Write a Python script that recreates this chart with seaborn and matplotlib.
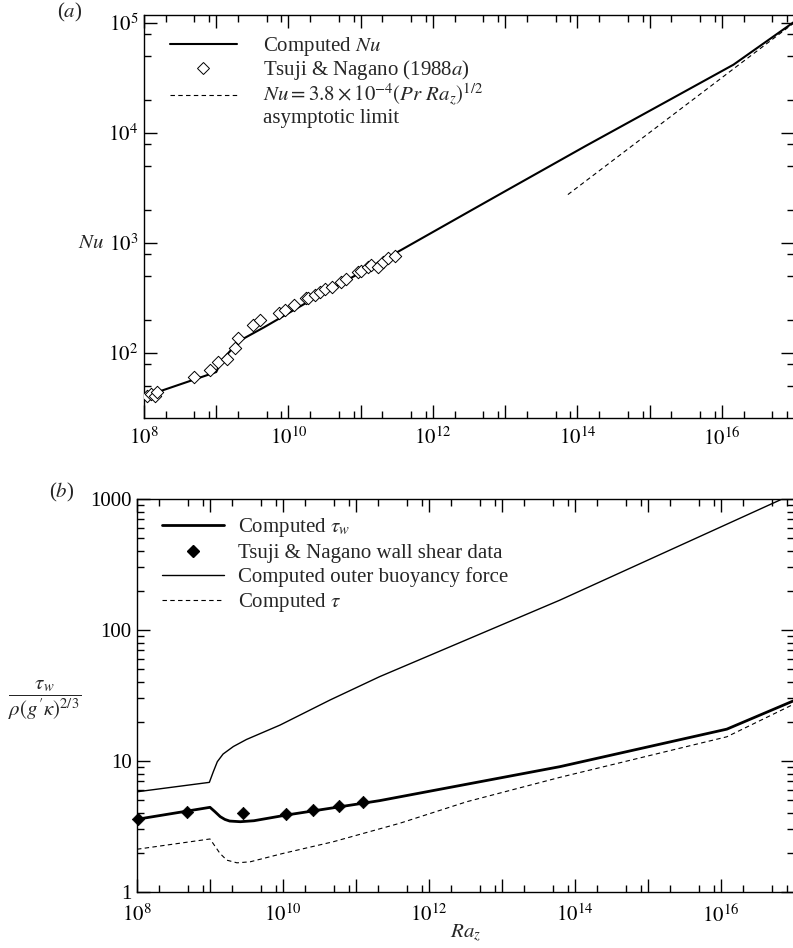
import numpy as np
import pandas as pd
import seaborn as sns
import matplotlib.pyplot as plt
from matplotlib.lines import Line2D
from matplotlib.ticker import LogLocator, FuncFormatter, NullFormatter

# ---- panel (a): Nusselt number ----
ra_nu_line = [1e8, 1e9, 1.2e9, 1.6e9, 2.2e9, 4.6e9, 2.0e10, 3.3e11, 3.5e12, 1e13,
              1.3e14, 1.9e15, 1.45e16, 1e17]
nu_line = [40, 67, 86, 106, 131, 171, 299, 832, 2000, 2950, 7600, 20000, 41700, 102000]

ra_tsuji_nu = [1.1e8, 1.25e8, 1.4e8, 1.5e8, 5.0e8, 8.3e8, 1.05e9, 1.43e9, 1.81e9, 2.02e9,
               3.19e9, 4.04e9, 7.5e9, 8.9e9, 1.2e10, 1.74e10, 1.85e10, 2.3e10, 2.77e10,
               3.24e10, 3.98e10, 5.37e10, 6.3e10, 9.2e10, 1.0e11, 1.26e11, 1.41e11,
               1.74e11, 2.04e11, 2.4e11, 2.96e11]
nu_tsuji = [40.6, 42.5, 41, 44, 60.5, 70.5, 82, 88, 111, 136,
            180, 200, 229, 245, 271, 318, 318, 337, 361,
            380, 396, 445, 468, 549, 560, 610, 631,
            610, 677, 726, 762]

ra_asym = [7.4e13, 1e17]
nu_asym = [2750, 1.0e5]

# ---- panel (b): wall shear stress ----
ra_tauw = [1e8, 1e9, 1.17e9, 1.38e9, 1.6e9, 1.86e9, 2.6e9, 4.0e9, 1.12e10, 2.1e11,
           6.2e13, 1.2e16, 1e17]
tauw = [3.59, 4.43, 4.1, 3.76, 3.58, 3.48, 3.44, 3.5, 3.87, 4.98,
        9.05, 17.5, 28.9]

ra_tsuji_tau = [1.03e8, 4.8e8, 2.8e9, 1.1e10, 2.6e10, 5.9e10, 1.26e11]
tau_tsuji = [3.59, 4.08, 4.0, 3.96, 4.2, 4.55, 4.84]

ra_outer = [1e8, 9.8e8, 1.11e9, 1.26e9, 1.51e9, 2.09e9, 3.16e9, 9.1e9, 4.4e10,
            2.1e11, 6.2e13, 6.9e16, 1e17]
outer = [5.82, 6.87, 8.28, 9.88, 11.3, 12.9, 14.6, 18.8, 29.2,
         44, 169, 1000, 1090]

ra_tau = [1e8, 1e9, 1.37e9, 1.7e9, 2.34e9, 3.55e9, 1e10, 4.9e10, 4.0e11, 3.3e12,
          6.2e13, 1.2e16, 1e17]
tau = [2.12, 2.54, 1.97, 1.75, 1.67, 1.70, 1.97, 2.42, 3.35, 4.89,
       7.5, 15.3, 27.2]

FS = 15

sns.set_style('ticks')
plt.rcParams['font.family'] = ['Liberation Serif', 'DejaVu Serif']
plt.rcParams['mathtext.fontset'] = 'stix'
plt.rcParams['font.size'] = FS

fig = plt.figure(figsize=(7.93, 9.48), dpi=100)
ax_a = fig.add_axes([144 / 793, 1 - 418 / 948, 650 / 793, 403 / 948])
ax_b = fig.add_axes([137 / 793, 1 - 892 / 948, 657 / 793, 393 / 948])


def style_axis(ax, ysubs, xpad):
    ax.set_xscale('log')
    ax.set_yscale('log')
    ax.set_xlim(1e8, 1e17)
    ax.xaxis.set_major_locator(LogLocator(base=10, numticks=30))
    ax.xaxis.set_minor_locator(LogLocator(base=10, subs=(2, 5, 8), numticks=30))
    ax.xaxis.set_major_formatter(FuncFormatter(
        lambda v, p: r'$10^{%d}$' % round(np.log10(v)) if round(np.log10(v)) % 2 == 0 else ''))
    ax.xaxis.set_minor_formatter(NullFormatter())
    ax.yaxis.set_major_locator(LogLocator(base=10, numticks=30))
    ax.yaxis.set_minor_locator(LogLocator(base=10, subs=ysubs, numticks=30))
    ax.yaxis.set_minor_formatter(NullFormatter())
    ax.tick_params(which='both', direction='in', top=True, right=True, width=1.0,
                   labelsize=FS, colors='k')
    ax.tick_params(which='major', length=9.5)
    ax.tick_params(which='minor', length=5)
    ax.tick_params(axis='x', pad=xpad)
    ax.tick_params(axis='y', pad=4)
    for s in ax.spines.values():
        s.set_linewidth(1.0)
        s.set_color('k')


# ---- (a) ----
style_axis(ax_a, (2, 5, 8), 7)
ax_a.set_ylim(25.6, 1.18e5)
ax_a.yaxis.set_major_formatter(FuncFormatter(lambda v, p: r'$10^{%d}$' % round(np.log10(v))))

sns.lineplot(x=ra_nu_line, y=nu_line, ax=ax_a, color='k', lw=1.5, sort=False, estimator=None)
sns.lineplot(x=ra_asym, y=nu_asym, ax=ax_a, color='k', lw=0.8, sort=False, estimator=None,
             linestyle=(0, (4, 3)))
sns.scatterplot(x=ra_tsuji_nu, y=nu_tsuji, ax=ax_a, marker='D', s=40, facecolor='white',
                edgecolor='k', linewidth=0.7, zorder=3)

handles_a = [
    Line2D([], [], color='k', lw=1.5),
    Line2D([], [], marker='D', ls='none', markersize=6, markerfacecolor='white',
           markeredgecolor='k', markeredgewidth=0.7),
    Line2D([], [], color='k', lw=0.8, linestyle=(0, (4, 3))),
]
labels_a = [r'Computed $Nu$', r'Tsuji & Nagano (1988$a$)',
            r'$Nu = 3.8\times10^{-4}(Pr\ Ra_z)^{1/2}$']
ax_a.legend(handles_a, labels_a, loc='upper left', bbox_to_anchor=(0.04, 0.95),
            frameon=False, handlelength=3.2, handletextpad=1.25, labelspacing=0.0,
            borderpad=0, borderaxespad=0, fontsize=FS)
ax_a.text((263 - 144) / 650, (418 - 118) / 403, 'asymptotic limit', transform=ax_a.transAxes,
          fontsize=FS, ha='left', va='center')
ax_a.set_xlabel('')
ax_a.set_ylabel(r'$Nu$', rotation=0, fontsize=FS, ha='right', va='center')
ax_a.yaxis.set_label_coords(-0.0615, 0.434)

# ---- (b) ----
style_axis(ax_b, (2, 3, 4, 5, 6, 7, 8, 9), 9)
ax_b.set_ylim(1, 1000)
ax_b.yaxis.set_major_formatter(FuncFormatter(lambda v, p: '%d' % round(v)))

sns.lineplot(x=ra_outer, y=outer, ax=ax_b, color='k', lw=1.0, sort=False, estimator=None)
sns.lineplot(x=ra_tau, y=tau, ax=ax_b, color='k', lw=0.8, sort=False, estimator=None,
             linestyle=(0, (4, 3)))
sns.lineplot(x=ra_tauw, y=tauw, ax=ax_b, color='k', lw=2.0, sort=False, estimator=None)
sns.scatterplot(x=ra_tsuji_tau, y=tau_tsuji, ax=ax_b, marker='D', s=40, color='k',
                edgecolor='k', zorder=3, clip_on=False)

handles_b = [
    Line2D([], [], color='k', lw=2.0),
    Line2D([], [], marker='D', ls='none', markersize=6, color='k'),
    Line2D([], [], color='k', lw=1.0),
    Line2D([], [], color='k', lw=0.8, linestyle=(0, (4, 3))),
]
labels_b = [r'Computed $\tau_w$', 'Tsuji & Nagano wall shear data',
            'Computed outer buoyancy force', r'Computed $\tau$']
ax_b.legend(handles_b, labels_b, loc='upper left', bbox_to_anchor=(0.038, 0.956),
            frameon=False, handlelength=3.0, handletextpad=0.63, labelspacing=0.2,
            borderpad=0, borderaxespad=0, fontsize=FS)
ax_b.set_xlabel(r'$Ra_z$', fontsize=FS, labelpad=-3)
ax_b.set_ylabel(r"$\dfrac{\tau_w}{\rho(g'\kappa)^{2/3}}$", rotation=0, fontsize=FS,
                ha='center', va='center')
ax_b.yaxis.set_label_coords(-0.14, 0.489)

fig.text(70 / 793, 1 - 12 / 948, r'($a$)', fontsize=FS, ha='center', va='center')
fig.text(62 / 793, 1 - 492 / 948, r'($b$)', fontsize=FS, ha='center', va='center')

fig.savefig('out.png', dpi=100)
